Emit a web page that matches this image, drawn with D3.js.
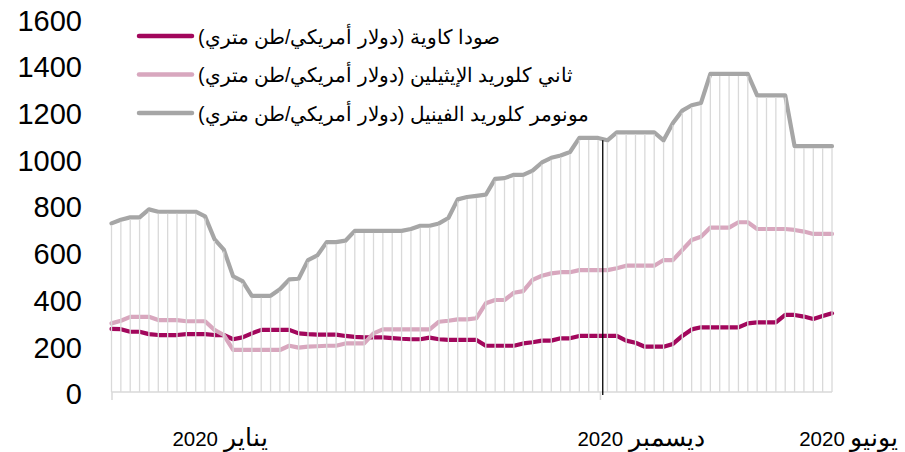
<!DOCTYPE html>
<html>
<head>
<meta charset="utf-8">
<script src="https://cdn.jsdelivr.net/npm/d3@7/dist/d3.min.js"></script>
<style>
  html, body { margin: 0; padding: 0; background: #ffffff; }
  svg { display: block; font-family: "Liberation Sans", Arial, sans-serif; }
</style>
</head>
<body>
<svg id="chart" width="905" height="452"></svg>
<script>
// ---------- data ----------
const seriesNames = [
  "صودا كاوية (دولار أمريكي/طن متري)",
  "ثاني كلوريد الإيثيلين (دولار أمريكي/طن متري)",
  "مونومر كلوريد الفينيل (دولار أمريكي/طن متري)"
];
const causticSoda = [270,269,258,258,248,244,244,244,248,248,248,244,244,226,234,251,266,266,266,266,251,248,246,246,246,240,236,234,234,234,231,228,226,226,233,226,223,223,223,223,198,198,198,198,208,213,220,220,230,230,240,240,240,240,240,220,211,194,194,194,206,240,268,277,277,277,277,277,294,298,298,298,330,330,323,313,325,337];
const edc = [294,305,322,322,322,308,308,308,303,303,303,266,244,180,180,180,180,180,180,198,190,194,196,198,198,208,208,208,251,268,268,268,268,268,268,301,305,311,311,316,380,394,394,425,432,480,498,508,513,513,522,522,522,522,530,541,541,541,541,565,565,608,651,665,704,704,704,727,727,698,698,698,698,694,687,677,677,677];
const vcm = [722,738,748,748,782,772,772,772,772,772,752,655,610,495,475,412,412,412,440,482,485,565,585,642,642,648,690,690,690,690,690,690,698,712,712,722,745,825,835,840,845,913,916,930,930,948,983,1003,1013,1028,1088,1088,1088,1078,1112,1112,1112,1112,1112,1078,1152,1205,1228,1238,1362,1362,1362,1362,1362,1270,1270,1270,1270,1053,1053,1053,1053,1053];
const yTicks = [0,200,400,600,800,1000,1200,1400,1600];
const xLabels = ["يناير 2020","ديسمبر 2020","يونيو 2020"];
const xLabelAt = [11.6, 56.6, 78.8];      // category positions of the period labels
const xTickAt = [0, 52.2];                // category-axis tick marks
const dividerAt = 52.5;                   // black separator line position

// ---------- layout ----------
const svg = d3.select("#chart");
const n = vcm.length;
const x = d3.scaleLinear().domain([0, n - 1]).range([111.5, 832]);
const y = d3.scaleLinear().domain([0, 1600]).range([392, 18.4]);

const colors = ["#a2075c", "#d8a7be", "#a6a6a6"];
const allSeries = [causticSoda, edc, vcm];

// y tick labels
const yAxis = d3.axisLeft(y).tickValues(yTicks).tickSize(0).tickPadding(0).tickFormat(d3.format("d"));
const gy = svg.append("g").attr("transform", "translate(82,2.5)").call(yAxis);
gy.select(".domain").remove();
gy.selectAll("text").attr("font-size", 29).attr("fill", "#000")
  .attr("font-family", "Liberation Sans, Arial, sans-serif");

// x axis
const xAxis = d3.axisBottom(x).tickValues(xTickAt).tickSize(8).tickFormat("");
const gx = svg.append("g").attr("transform", "translate(0,392)").call(xAxis);
gx.select(".domain").attr("stroke", "#d9d9d9").attr("stroke-width", 1.5)
  .attr("d", `M${x(0)},0H${x(n - 1)}`);
gx.selectAll(".tick line").attr("stroke", "#d9d9d9").attr("stroke-width", 1.5);

// series lines
const line = d3.line().x((d, i) => x(i)).y(d => y(d)).curve(d3.curveLinear);
allSeries.forEach((s, k) => {
  svg.append("path").datum(s)
    .attr("fill", "none")
    .attr("stroke", colors[k])
    .attr("stroke-width", 4.2)
    .attr("stroke-linejoin", "round")
    .attr("stroke-linecap", "round")
    .attr("d", line);
});

// drop lines (from highest series to axis)
svg.append("g").selectAll("line").data(vcm).join("line")
  .attr("x1", (d, i) => x(i)).attr("x2", (d, i) => x(i))
  .attr("y1", d => y(d) + 2).attr("y2", y(0))
  .attr("stroke", "#d9d9d9").attr("stroke-width", 1.3);

// black divider
svg.append("line")
  .attr("x1", x(dividerAt)).attr("x2", x(dividerAt))
  .attr("y1", y(vcm[Math.round(dividerAt)])).attr("y2", y(0) + 3)
  .attr("stroke", "#000").attr("stroke-width", 1.3);

// x period labels (Arabic month word slightly larger, like the reference)
const xl = svg.append("g").selectAll("text").data(xLabels).join("text")
  .attr("x", (d, i) => x(xLabelAt[i]))
  .attr("y", 446)
  .attr("direction", "rtl")
  .attr("text-anchor", "middle")
  .attr("fill", "#000");
xl.append("tspan").attr("font-size", 24.5).text(d => d.slice(0, d.lastIndexOf(" ")));
xl.append("tspan").attr("font-size", 20.5).text(d => d.slice(d.lastIndexOf(" ")));

// legend
const legend = svg.append("g");
seriesNames.forEach((name, k) => {
  const ly = 36 + k * 38.5;
  legend.append("line")
    .attr("x1", 139).attr("x2", 192).attr("y1", ly).attr("y2", ly)
    .attr("stroke", colors[k]).attr("stroke-width", 4.5).attr("stroke-linecap", "round");
  legend.append("text")
    .attr("x", 198).attr("y", ly + 7.5)
    .attr("direction", "rtl")
    .attr("text-anchor", "end")
    .attr("font-size", 19.6)
    .attr("fill", "#000")
    .text(name);
});
</script>
</body>
</html>
